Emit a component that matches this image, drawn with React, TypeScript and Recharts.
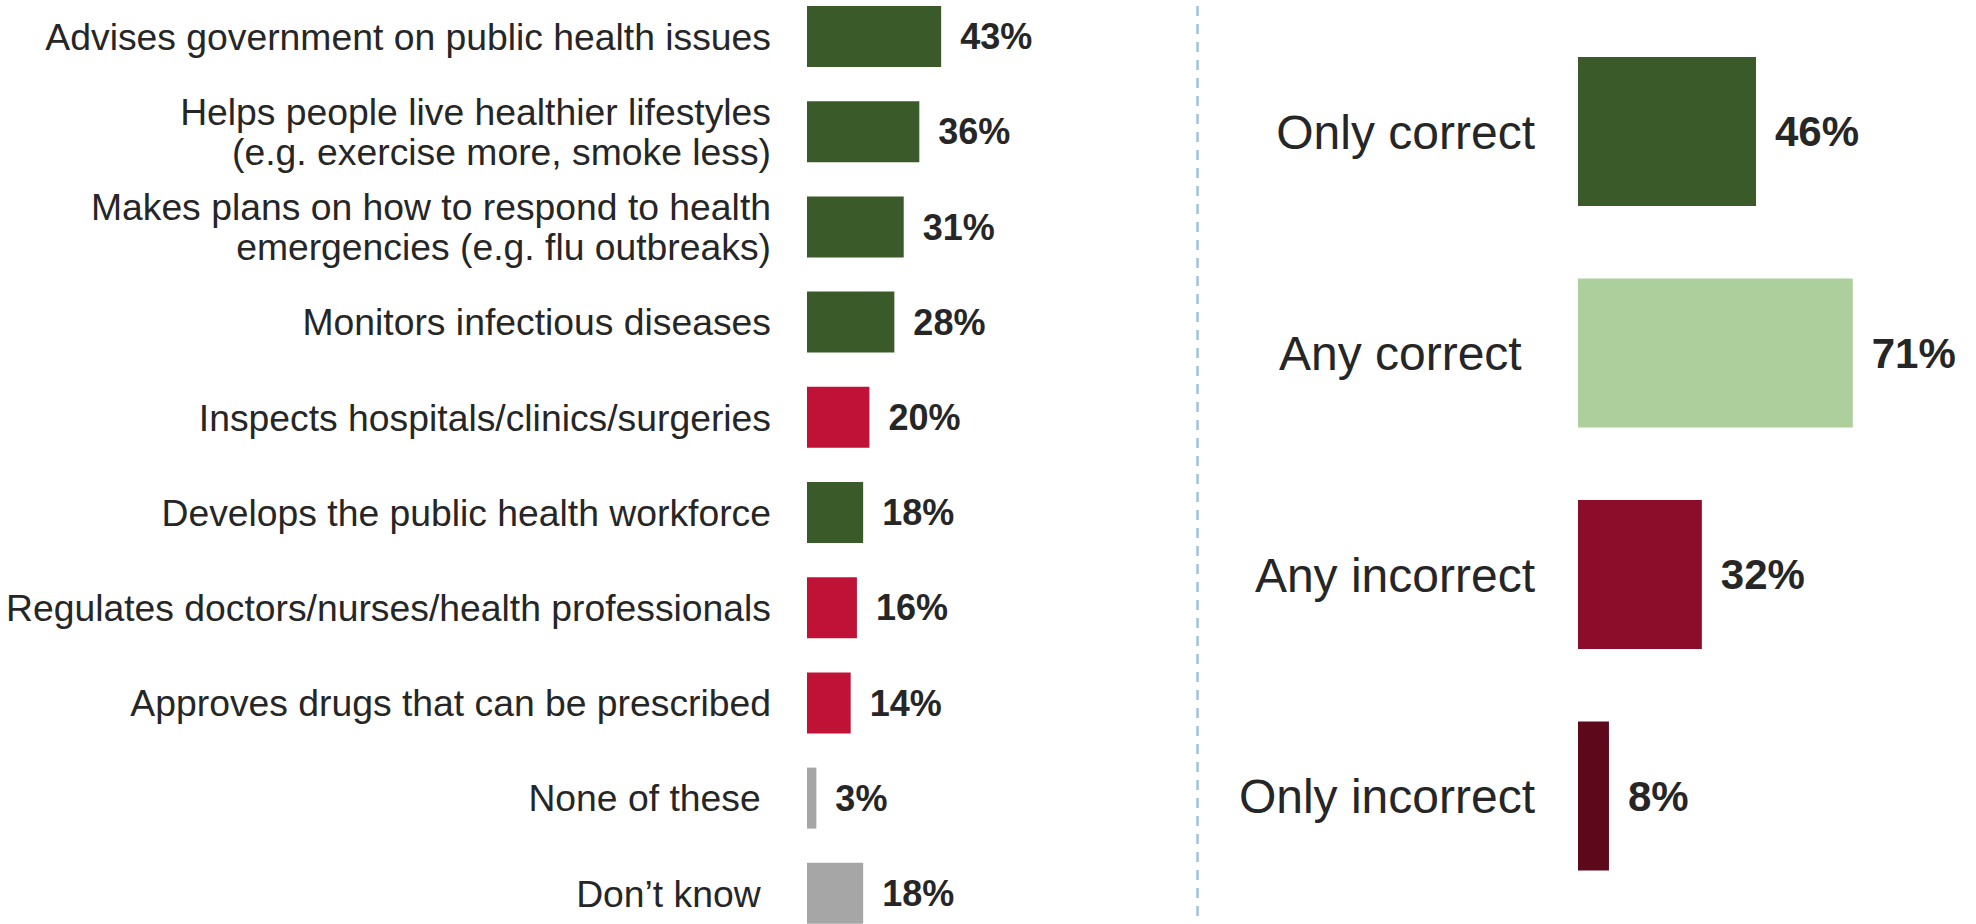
import React from "react";
import { BarChart, Bar, XAxis, YAxis, Cell, LabelList } from "recharts";

const FONT = "'Liberation Sans', Arial, sans-serif";
const TEXT = "#262626";

// Left panel: what people think the organisation does
const roleLabels = [
  "Advises government on public health issues",
  "Helps people live healthier lifestyles\n(e.g. exercise more, smoke less)",
  "Makes plans on how to respond to health\nemergencies (e.g. flu outbreaks)",
  "Monitors infectious diseases",
  "Inspects hospitals/clinics/surgeries",
  "Develops the public health workforce",
  "Regulates doctors/nurses/health professionals",
  "Approves drugs that can be prescribed",
  "None of these ",
  "Don\u2019t know ",
];
const roleValues = [43, 36, 31, 28, 20, 18, 16, 14, 3, 18];
const roleColors = [
  "#3b5a29", "#3b5a29", "#3b5a29", "#3b5a29", "#c01237",
  "#3b5a29", "#c01237", "#c01237", "#a6a6a6", "#a6a6a6",
];

// Right panel: summary
const summaryLabels = ["Only correct", "Any correct ", "Any incorrect", "Only incorrect"];
const summaryValues = [46, 71, 32, 8];
const summaryColors = ["#3b5a29", "#accf9b", "#8c0d2a", "#5e081b"];

const roleData = roleLabels.map((name, i) => ({ name, value: roleValues[i], fill: roleColors[i] }));
const summaryData = summaryLabels.map((name, i) => ({ name, value: summaryValues[i], fill: summaryColors[i] }));

function MultiLineTick(props: any) {
  const { x, y, payload, fontSize, lineHeight } = props;
  const lines: string[] = String(payload.value).split("\n");
  const start = -((lines.length - 1) * lineHeight) / 2;
  return (
    <text
      x={x}
      y={y}
      textAnchor="end"
      fill={TEXT}
      fontSize={fontSize}
      fontFamily={FONT}
      style={{ whiteSpace: "pre" }}
    >
      {lines.map((line, i) => (
        <tspan key={i} x={x} dy={i === 0 ? start + fontSize * 0.355 : lineHeight}>
          {line}
        </tspan>
      ))}
    </text>
  );
}

export default function App() {
  return (
    <div
      style={{
        position: "absolute",
        left: 0,
        top: 0,
        width: 1976,
        height: 924,
        overflow: "hidden",
        background: "#fff",
        fontFamily: FONT,
      }}
    >
      {/* Left chart */}
      <div style={{ position: "absolute", left: 0, top: -11 }}>
        <BarChart
          width={1190}
          height={952}
          data={roleData}
          layout="vertical"
          margin={{ top: 0, right: 71, bottom: 0, left: 0 }}
          barSize={61}
        >
          <XAxis type="number" domain={[0, 100]} hide />
          <YAxis
            type="category"
            dataKey="name"
            width={807}
            axisLine={false}
            tickLine={false}
            tickSize={0}
            tickMargin={36}
            interval={0}
            tick={<MultiLineTick fontSize={37.3} lineHeight={40} />}
          />
          <Bar dataKey="value" isAnimationActive={false}>
            {roleData.map((d, i) => (
              <Cell key={i} fill={d.fill} />
            ))}
            <LabelList
              dataKey="value"
              position="right"
              offset={19}
              formatter={(v: any) => `${v}%`}
              style={{ fill: TEXT, fontSize: 36, fontWeight: 700, fontFamily: FONT }}
            />
          </Bar>
        </BarChart>
      </div>

      {/* Divider */}
      <svg style={{ position: "absolute", left: 0, top: 0 }} width={1976} height={924}>
        <line x1={1197.5} y1={6} x2={1197.5} y2={924} stroke="#9dc3e6" strokeWidth={2.5} strokeDasharray="10 8" />
      </svg>

      {/* Right chart */}
      <div style={{ position: "absolute", left: 1200, top: 0 }}>
        <BarChart
          width={776}
          height={924}
          data={summaryData}
          layout="vertical"
          margin={{ top: 21, right: 11, bottom: 17, left: 0 }}
          barSize={149}
        >
          <XAxis type="number" domain={[0, 100]} hide />
          <YAxis
            type="category"
            dataKey="name"
            width={378}
            axisLine={false}
            tickLine={false}
            tickSize={0}
            tickMargin={43}
            interval={0}
            tick={<MultiLineTick fontSize={48} lineHeight={52} />}
          />
          <Bar dataKey="value" isAnimationActive={false}>
            {summaryData.map((d, i) => (
              <Cell key={i} fill={d.fill} />
            ))}
            <LabelList
              dataKey="value"
              position="right"
              offset={19}
              formatter={(v: any) => `${v}%`}
              style={{ fill: TEXT, fontSize: 42, fontWeight: 700, fontFamily: FONT }}
            />
          </Bar>
        </BarChart>
      </div>
    </div>
  );
}
